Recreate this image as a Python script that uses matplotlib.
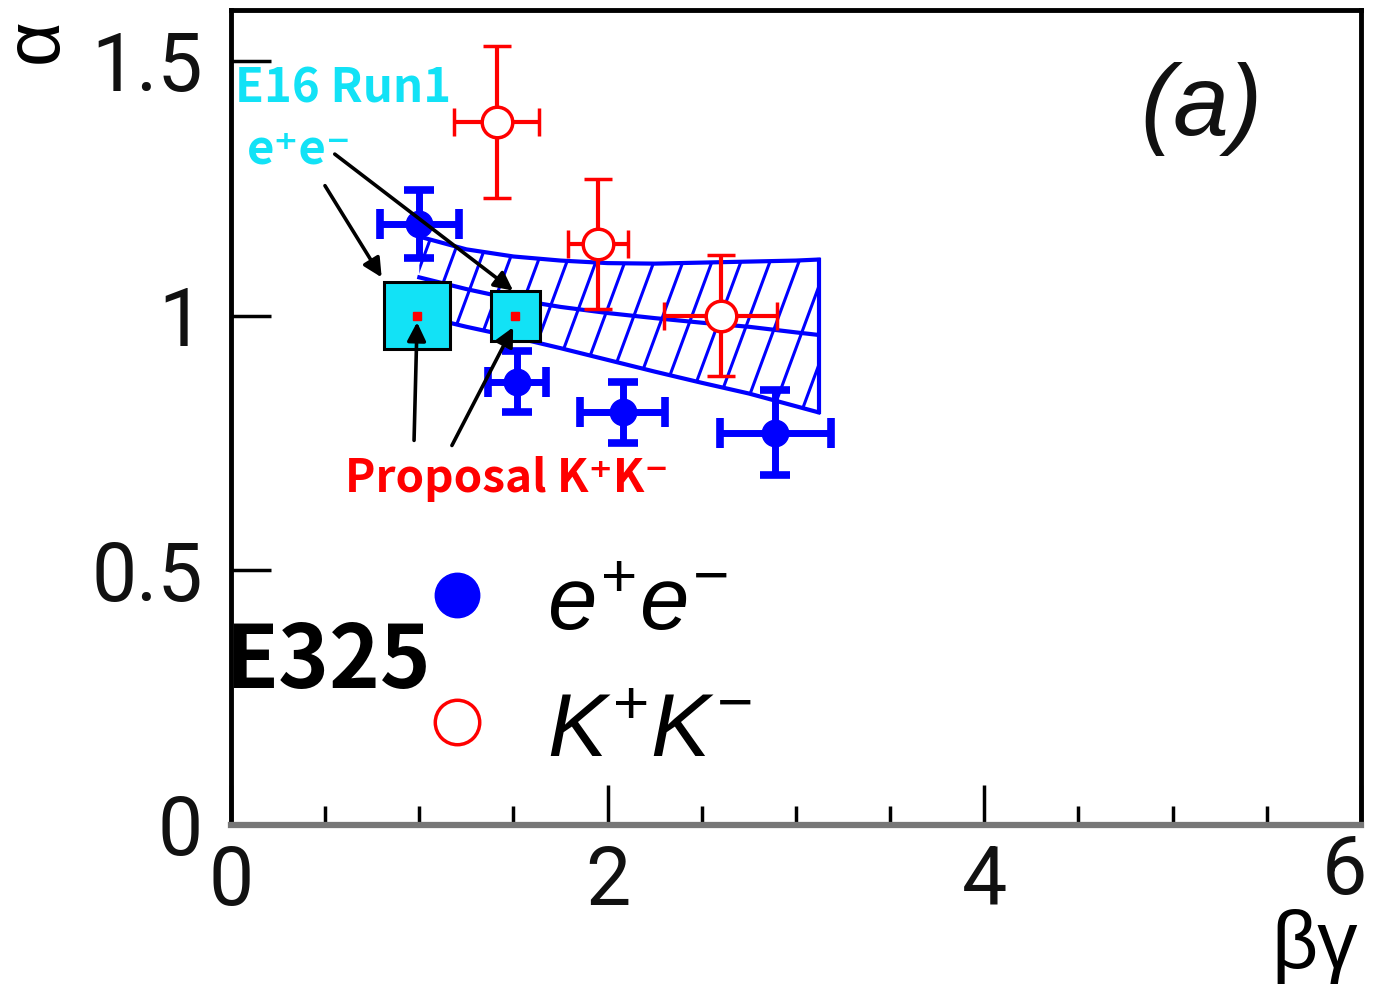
import numpy as np
import matplotlib.pyplot as plt
from matplotlib.patches import Polygon, Rectangle
from matplotlib.ticker import MultipleLocator
from matplotlib.transforms import ScaledTranslation

plt.rcParams['mathtext.fontset'] = 'custom'
plt.rcParams['mathtext.it'] = 'Liberation Sans:italic'
plt.rcParams['mathtext.rm'] = 'Liberation Sans'

# e+e- measurements (filled blue)
ee_x = [1.00, 1.52, 2.08, 2.89]
ee_y = [1.18, 0.87, 0.81, 0.77]
ee_xerr = [0.21, 0.155, 0.225, 0.295]
ee_yerr = [0.067, 0.06, 0.06, 0.083]

# K+K- measurements (open red)
kk_x = [1.41, 1.95, 2.60]
kk_y = [1.38, 1.14, 1.00]
kk_xerr = [0.225, 0.16, 0.30]
kk_yerr = [0.15, 0.128, 0.118]

# E16 Run1 e+e- projection boxes and proposal K+K- points
e16_x = [0.99, 1.51]
e16_y = [1.0, 1.0]
e16_xerr = [0.175, 0.13]
e16_yerr = [0.066, 0.049]

# model band
band_x = [1.0, 1.25, 1.5, 1.75, 2.0, 2.25, 2.5, 2.75, 3.0, 3.12]
band_hi = [1.155, 1.13, 1.116, 1.108, 1.103, 1.102, 1.104, 1.106, 1.108, 1.11]
band_mid = [1.075, 1.052, 1.032, 1.017, 1.005, 0.995, 0.986, 0.978, 0.967, 0.962]
band_lo = [1.0, 0.978, 0.958, 0.936, 0.913, 0.89, 0.868, 0.847, 0.822, 0.81]

xticks = [0, 2, 4, 6]
yticks = [0, 0.5, 1, 1.5]
ytick_labels = ['0', '0.5', '1', '1.5']

BLUE = '#0000FF'
RED = '#FF0000'
CYAN = '#12E2F6'
JP = ['Noto Sans CJK JP', 'DejaVu Sans']
THIN = ['Roboto', 'DejaVu Sans']

fig = plt.figure(figsize=(13.75, 9.84), dpi=100)
ax = fig.add_axes([0.168, 0.1616, 0.8218, 0.8283])
ax.set_xlim(0, 6)
ax.set_ylim(0, 1.6)

# hatched band
verts = list(zip(band_x, band_hi)) + list(zip(band_x[::-1], band_lo[::-1]))
poly = Polygon(verts, closed=True, facecolor='white', edgecolor='none', zorder=2)
ax.add_patch(poly)
for x0 in np.arange(0.3, 3.4, 0.154):
    ln, = ax.plot([x0, x0 + 0.7], [0.7, 1.4], color=BLUE, lw=2.2, zorder=2.1)
    ln.set_clip_path(poly)
for curve in (band_hi, band_mid, band_lo):
    ax.plot(band_x, curve, color=BLUE, lw=3, zorder=2.2)
ax.plot([band_x[-1]] * 2, [band_lo[-1], band_hi[-1]], color=BLUE, lw=3, zorder=2.2)

ax.errorbar(kk_x, kk_y, xerr=kk_xerr, yerr=kk_yerr, fmt='o', ms=22,
            mfc='white', mec=RED, mew=2.5, ecolor=RED, elinewidth=3,
            capsize=10, capthick=3, zorder=3)
ax.errorbar(ee_x, ee_y, xerr=ee_xerr, yerr=ee_yerr, fmt='o', ms=19,
            color=BLUE, elinewidth=5, capsize=11, capthick=5.5, zorder=4)

for x, y, dx, dy in zip(e16_x, e16_y, e16_xerr, e16_yerr):
    ax.add_patch(Rectangle((x - dx, y - dy), 2 * dx, 2 * dy, facecolor=CYAN,
                           edgecolor='black', lw=2.2, zorder=5))
ax.plot(e16_x, e16_y, 's', color=RED, ms=6, zorder=6)

# labels and arrows
ax.text(0.021, 1.445, 'E16 Run1', color=CYAN, fontsize=34, fontweight='bold',
        family=JP, ha='left', va='center', zorder=7)
ax.text(0.085, 1.298, 'e⁺e⁻', color=CYAN, fontsize=34, fontweight='bold',
        family=JP, ha='left', va='baseline', zorder=7)
ax.text(0.605, 0.653, 'Proposal K⁺K⁻', color=RED, fontsize=33, fontweight='bold',
        family=JP, ha='left', va='baseline', zorder=7)
ax.text(-0.03, 0.269, 'E325', color='black', fontsize=62, fontweight='bold',
        family=JP, ha='left', va='baseline', zorder=7, clip_on=False)

arrow = dict(arrowstyle='-|>', color='black', lw=2.6, mutation_scale=28,
             shrinkA=0, shrinkB=0)
for start, end in [((0.499, 1.255), (0.800, 1.075)),
                   ((0.551, 1.317), (1.498, 1.049)),
                   ((0.972, 0.755), (0.988, 0.987)),
                   ((1.173, 0.745), (1.498, 0.977))]:
    ax.annotate('', xy=end, xytext=start, arrowprops=arrow, zorder=8)

# legend drawn by hand
ax.plot([1.20], [0.451], 'o', color=BLUE, ms=32, zorder=5)
ax.plot([1.20], [0.202], 'o', mfc='white', mec=RED, mew=2.5, ms=32, zorder=5)
ax.text(1.68, 0.382, r'$e^{+}e^{-}$', fontsize=64, ha='left', va='baseline')
ax.text(1.68, 0.133, r'$K^{+}K^{-}$', fontsize=64, ha='left', va='baseline')
ax.text(5.15, 1.405, '(a)', fontsize=72, fontstyle='italic', family='Liberation Sans',
        ha='center', va='center', color='#111111')

# axes styling
ax.set_xticks(xticks)
ax.set_xticklabels([str(t) for t in xticks])
ax.set_yticks(yticks)
ax.set_yticklabels(ytick_labels)
ax.xaxis.set_minor_locator(MultipleLocator(0.5))
ax.tick_params(axis='both', which='major', direction='in', length=29,
               width=2.5, labelsize=58, pad=20, colors='black',
               labelcolor='#111111')
ax.tick_params(axis='x', which='major', pad=14)
ax.tick_params(axis='x', which='minor', direction='in', length=14, width=2.5)
ax.tick_params(axis='y', which='minor', length=0)
for lbl in ax.get_xticklabels() + ax.get_yticklabels():
    lbl.set_family(THIN)
    lbl.set_fontweight('normal')
# keep the last x label inside the canvas
last = ax.get_xticklabels()[-1]
last.set_transform(last.get_transform() + ScaledTranslation(-12 / 72, 8 / 72, fig.dpi_scale_trans))
for s in ('left', 'top', 'right'):
    ax.spines[s].set_linewidth(3.5)
    ax.spines[s].set_color('black')
ax.spines['bottom'].set_linewidth(4.5)
ax.spines['bottom'].set_color('#777777')

ax.set_ylabel('α', fontsize=56, family='Liberation Sans', rotation=90,
              va='center', ha='center')
ax.yaxis.set_label_coords(-0.172, 0.963)
ax.set_xlabel('βγ', fontsize=58, family='Liberation Sans', va='center', ha='center')
ax.xaxis.set_label_coords(0.959, -0.15)

fig.savefig('out.png', dpi=100)
